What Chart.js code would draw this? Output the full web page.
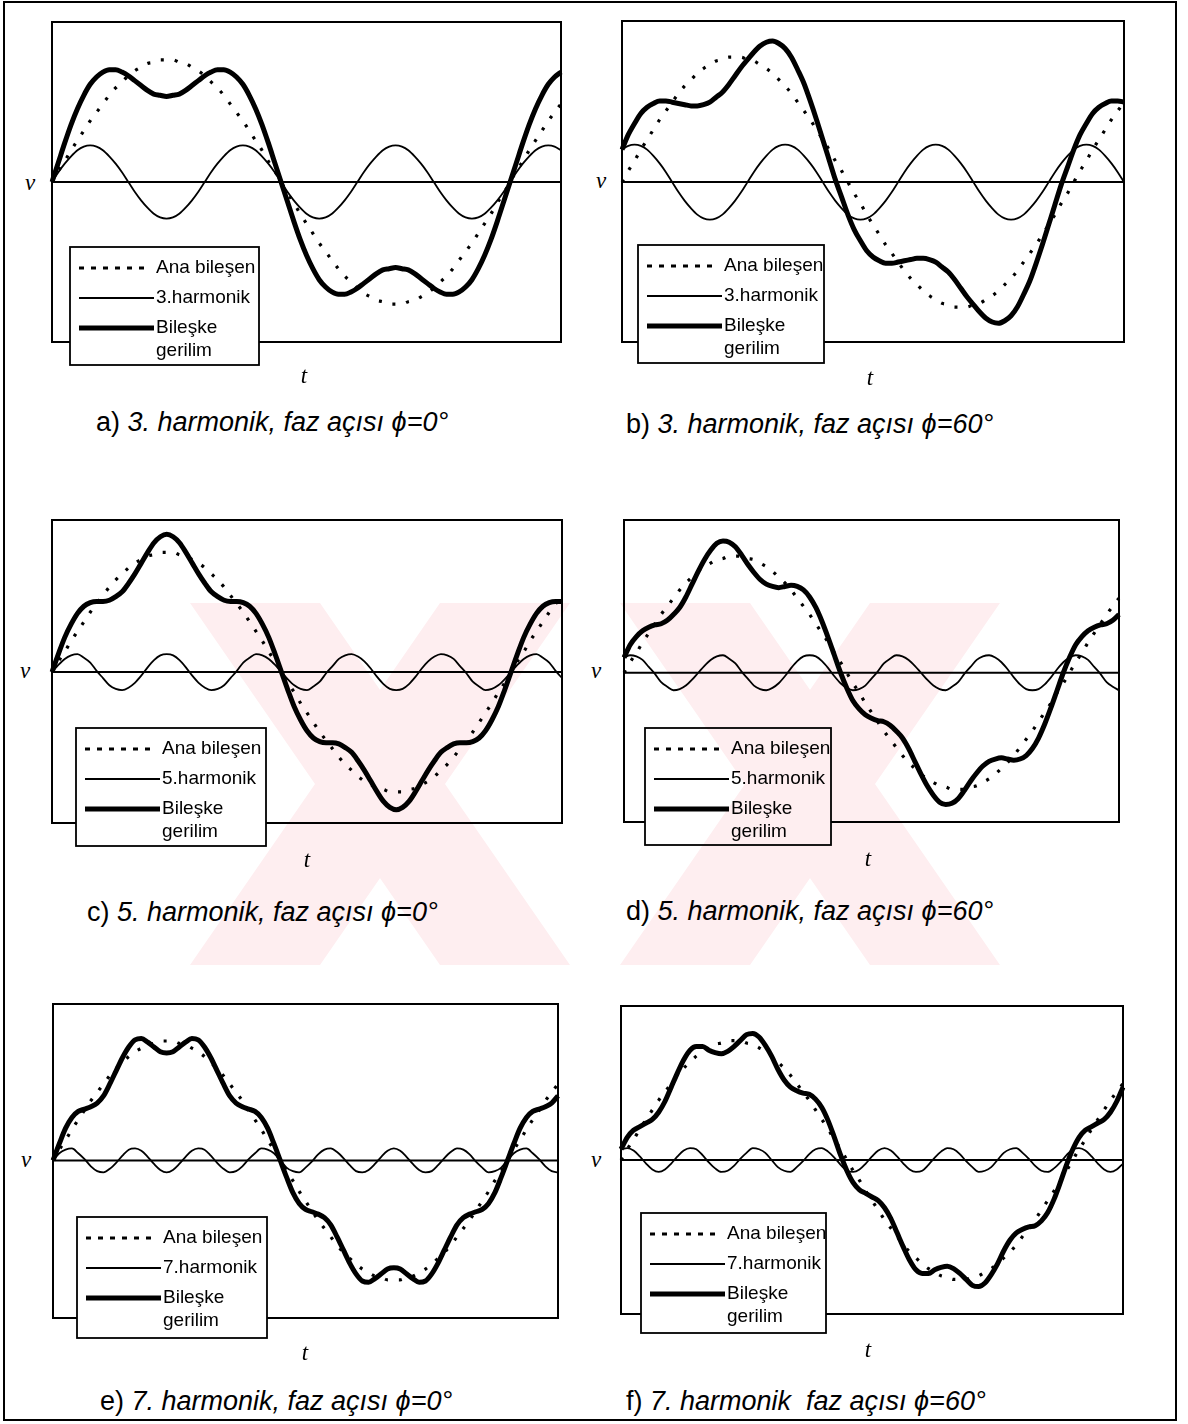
<!DOCTYPE html>
<html>
<head>
<meta charset="utf-8">
<script src="https://cdn.jsdelivr.net/npm/chart.js@4.4.1/dist/chart.umd.min.js"></script>
<style>
  html, body { margin: 0; padding: 0; background: #fff; }
  #page { position: relative; width: 1188px; height: 1424px; overflow: hidden; background: #fff; }
  #frame { position: absolute; left: 3px; top: 1px; width: 1170px; height: 1416px; border: 2px solid #000; }
  canvas.plot { position: absolute; }
  .cap { position: absolute; font-family: "Liberation Sans", Arial, sans-serif; font-size: 27px; line-height: 27px; white-space: pre; color: #000; }
  .cap i { font-style: italic; }
  .ax { position: absolute; font-family: "Liberation Serif", "Times New Roman", serif; font-style: italic; font-size: 23px; line-height: 23px; color: #000; transform: translateX(-50%); }
  #wm { position: absolute; left: 0; top: 0; mix-blend-mode: multiply; pointer-events: none; }
</style>
</head>
<body>
<div id="page">
  <div id="frame"></div>
</div>
<script>
// Time axis in degrees of the fundamental (0 .. 400°, 5° steps)
const tDeg = [0,5,10,15,20,25,30,35,40,45,50,55,60,65,70,75,80,85,90,95,100,105,110,115,120,125,130,135,140,145,150,155,160,165,170,175,180,185,190,195,200,205,210,215,220,225,230,235,240,245,250,255,260,265,270,275,280,285,290,295,300,305,310,315,320,325,330,335,340,345,350,355,360,365,370,375,380,385,390,395,400];

// Fundamental (Ana bileşen), same in every panel
const anaBilesen = [0,0.09,0.17,0.26,0.34,0.42,0.50,0.57,0.64,0.71,0.77,0.82,0.87,0.91,0.94,0.97,0.98,1.00,1.00,
  1.00,0.98,0.97,0.94,0.91,0.87,0.82,0.77,0.71,0.64,0.57,0.50,0.42,0.34,0.26,0.17,0.09,0,
  -0.09,-0.17,-0.26,-0.34,-0.42,-0.50,-0.57,-0.64,-0.71,-0.77,-0.82,-0.87,-0.91,-0.94,-0.97,-0.98,-1.00,-1.00,
  -1.00,-0.98,-0.97,-0.94,-0.91,-0.87,-0.82,-0.77,-0.71,-0.64,-0.57,-0.50,-0.42,-0.34,-0.26,-0.17,-0.09,0,
  0.09,0.17,0.26,0.34,0.42,0.50,0.57,0.64];

// 3rd harmonic, phase 0° and 60°
const harmonik3_0 = [0,0.08,0.15,0.21,0.26,0.29,0.30,0.29,0.26,0.21,0.15,0.08,0,-0.08,-0.15,-0.21,-0.26,-0.29,-0.30,-0.29,-0.26,-0.21,-0.15,-0.08,
  0,0.08,0.15,0.21,0.26,0.29,0.30,0.29,0.26,0.21,0.15,0.08,0,-0.08,-0.15,-0.21,-0.26,-0.29,-0.30,-0.29,-0.26,-0.21,-0.15,-0.08,
  0,0.08,0.15,0.21,0.26,0.29,0.30,0.29,0.26,0.21,0.15,0.08,0,-0.08,-0.15,-0.21,-0.26,-0.29,-0.30,-0.29,-0.26,-0.21,-0.15,-0.08,
  0,0.08,0.15,0.21,0.26,0.29,0.30,0.29,0.26];
const bileske3_0 = [0,0.16,0.32,0.47,0.60,0.71,0.80,0.86,0.90,0.92,0.92,0.90,0.87,0.83,0.79,0.75,0.72,0.71,0.70,0.71,0.72,0.75,0.79,0.83,0.87,0.90,0.92,0.92,0.90,0.86,0.80,0.71,0.60,0.47,0.32,0.16,0,
  -0.16,-0.32,-0.47,-0.60,-0.71,-0.80,-0.86,-0.90,-0.92,-0.92,-0.90,-0.87,-0.83,-0.79,-0.75,-0.72,-0.71,-0.70,-0.71,-0.72,-0.75,-0.79,-0.83,-0.87,-0.90,-0.92,-0.92,-0.90,-0.86,-0.80,-0.71,-0.60,-0.47,-0.32,-0.16,0,
  0.16,0.32,0.47,0.60,0.71,0.80,0.86,0.90];
const harmonik3_60 = [0.26,0.29,0.30,0.29,0.26,0.21,0.15,0.08,0,-0.08,-0.15,-0.21,-0.26,-0.29,-0.30,-0.29,-0.26,-0.21,-0.15,-0.08,0,0.08,0.15,0.21,
  0.26,0.29,0.30,0.29,0.26,0.21,0.15,0.08,0,-0.08,-0.15,-0.21,-0.26,-0.29,-0.30,-0.29,-0.26,-0.21,-0.15,-0.08,0,0.08,0.15,0.21,
  0.26,0.29,0.30,0.29,0.26,0.21,0.15,0.08,0,-0.08,-0.15,-0.21,-0.26,-0.29,-0.30,-0.29,-0.26,-0.21,-0.15,-0.08,0,0.08,0.15,0.21,
  0.26,0.29,0.30,0.29,0.26,0.21,0.15,0.08,0];
const bileske3_60 = [0.26,0.38,0.47,0.55,0.60,0.63,0.65,0.65,0.64,0.63,0.62,0.61,0.61,0.62,0.64,0.68,0.72,0.78,0.85,0.92,0.98,1.04,1.09,1.12,1.13,1.11,1.07,1.00,0.90,0.79,0.65,0.50,0.34,0.18,0.02,-0.12,-0.26,
  -0.38,-0.47,-0.55,-0.60,-0.63,-0.65,-0.65,-0.64,-0.63,-0.62,-0.61,-0.61,-0.62,-0.64,-0.68,-0.72,-0.78,-0.85,-0.92,-0.98,-1.04,-1.09,-1.12,-1.13,-1.11,-1.07,-1.00,-0.90,-0.79,-0.65,-0.50,-0.34,-0.18,-0.02,0.12,0.26,
  0.38,0.47,0.55,0.60,0.63,0.65,0.65,0.64];

// 5th harmonic, phase 0° and 60°
const harmonik5_0 = [0,0.06,0.11,0.14,0.15,0.12,0.08,0.01,-0.05,-0.11,-0.14,-0.15,-0.13,-0.09,-0.03,0.04,0.10,0.14,0.15,0.14,0.10,0.04,-0.03,-0.09,-0.13,-0.15,-0.14,-0.11,-0.05,0.01,0.08,0.12,0.15,0.14,0.11,0.06,0,
  -0.06,-0.11,-0.14,-0.15,-0.12,-0.08,-0.01,0.05,0.11,0.14,0.15,0.13,0.09,0.03,-0.04,-0.10,-0.14,-0.15,-0.14,-0.10,-0.04,0.03,0.09,0.13,0.15,0.14,0.11,0.05,-0.01,-0.08,-0.12,-0.15,-0.14,-0.11,-0.06,0,
  0.06,0.11,0.14,0.15,0.12,0.08,0.01,-0.05];
const bileske5_0 = [0,0.15,0.29,0.40,0.49,0.55,0.58,0.59,0.59,0.60,0.63,0.67,0.74,0.82,0.91,1.00,1.08,1.13,1.15,1.13,1.08,1.00,0.91,0.82,0.74,0.67,0.63,0.60,0.59,0.59,0.58,0.55,0.49,0.40,0.29,0.15,0,
  -0.15,-0.29,-0.40,-0.49,-0.55,-0.58,-0.59,-0.59,-0.60,-0.63,-0.67,-0.74,-0.82,-0.91,-1.00,-1.08,-1.13,-1.15,-1.13,-1.08,-1.00,-0.91,-0.82,-0.74,-0.67,-0.63,-0.60,-0.59,-0.59,-0.58,-0.55,-0.49,-0.40,-0.29,-0.15,0,
  0.15,0.29,0.40,0.49,0.55,0.58,0.59,0.59];
const harmonik5_60 = [0.13,0.15,0.14,0.11,0.05,-0.01,-0.08,-0.12,-0.15,-0.14,-0.11,-0.06,0,0.06,0.11,0.14,0.15,0.12,0.08,0.01,-0.05,-0.11,-0.14,-0.15,-0.13,-0.09,-0.03,0.04,0.10,0.14,0.15,0.14,0.10,0.04,-0.03,-0.09,-0.13,
  -0.15,-0.14,-0.11,-0.05,0.01,0.08,0.12,0.15,0.14,0.11,0.06,0,-0.06,-0.11,-0.14,-0.15,-0.12,-0.08,-0.01,0.05,0.11,0.14,0.15,0.13,0.09,0.03,-0.04,-0.10,-0.14,-0.15,-0.14,-0.10,-0.04,0.03,0.09,0.13,
  0.15,0.14,0.11,0.05,-0.01,-0.08,-0.12,-0.15];
const bileske5_60 = [0.13,0.24,0.31,0.36,0.39,0.41,0.42,0.45,0.50,0.56,0.65,0.76,0.87,0.97,1.05,1.11,1.13,1.12,1.08,1.01,0.93,0.86,0.80,0.76,0.74,0.73,0.74,0.75,0.74,0.71,0.65,0.56,0.44,0.30,0.15,0.00,-0.13,
  -0.24,-0.31,-0.36,-0.39,-0.41,-0.42,-0.45,-0.50,-0.56,-0.65,-0.76,-0.87,-0.97,-1.05,-1.11,-1.13,-1.12,-1.08,-1.01,-0.93,-0.86,-0.80,-0.76,-0.74,-0.73,-0.74,-0.75,-0.74,-0.71,-0.65,-0.56,-0.44,-0.30,-0.15,0.00,0.13,
  0.24,0.31,0.36,0.39,0.41,0.42,0.45,0.50];

// 7th harmonic, phase 0° and 60°
const harmonik7_0 = [0,0.06,0.09,0.10,0.06,0.01,-0.05,-0.09,-0.10,-0.07,-0.02,0.04,0.09,0.10,0.08,0.03,-0.03,-0.08,-0.10,-0.08,-0.03,0.03,0.08,0.10,0.09,0.04,-0.02,-0.07,-0.10,-0.09,-0.05,0.01,0.06,0.10,0.09,0.06,0,
  -0.06,-0.09,-0.10,-0.06,-0.01,0.05,0.09,0.10,0.07,0.02,-0.04,-0.09,-0.10,-0.08,-0.03,0.03,0.08,0.10,0.08,0.03,-0.03,-0.08,-0.10,-0.09,-0.04,0.02,0.07,0.10,0.09,0.05,-0.01,-0.06,-0.10,-0.09,-0.06,0,
  0.06,0.09,0.10,0.06,0.01,-0.05,-0.09,-0.10];
const bileske7_0 = [0,0.14,0.27,0.36,0.41,0.43,0.45,0.48,0.54,0.64,0.75,0.86,0.95,1.01,1.02,0.99,0.95,0.91,0.90,0.91,0.95,0.99,1.02,1.01,0.95,0.86,0.75,0.64,0.54,0.48,0.45,0.43,0.41,0.36,0.27,0.14,0,
  -0.14,-0.27,-0.36,-0.41,-0.43,-0.45,-0.48,-0.54,-0.64,-0.75,-0.86,-0.95,-1.01,-1.02,-0.99,-0.95,-0.91,-0.90,-0.91,-0.95,-0.99,-1.02,-1.01,-0.95,-0.86,-0.75,-0.64,-0.54,-0.48,-0.45,-0.43,-0.41,-0.36,-0.27,-0.14,0,
  0.14,0.27,0.36,0.41,0.43,0.45,0.48,0.54];
const harmonik7_60 = [0.09,0.10,0.08,0.03,-0.03,-0.08,-0.10,-0.08,-0.03,0.03,0.08,0.10,0.09,0.04,-0.02,-0.07,-0.10,-0.09,-0.05,0.01,0.06,0.10,0.09,0.06,0,-0.06,-0.09,-0.10,-0.06,-0.01,0.05,0.09,0.10,0.07,0.02,-0.04,-0.09,
  -0.10,-0.08,-0.03,0.03,0.08,0.10,0.08,0.03,-0.03,-0.08,-0.10,-0.09,-0.04,0.02,0.07,0.10,0.09,0.05,-0.01,-0.06,-0.10,-0.09,-0.06,0,0.06,0.09,0.10,0.06,0.01,-0.05,-0.09,-0.10,-0.07,-0.02,0.04,0.09,
  0.10,0.08,0.03,-0.03,-0.08,-0.10,-0.08,-0.03];
const bileske7_60 = [0.09,0.19,0.25,0.28,0.31,0.34,0.40,0.49,0.61,0.73,0.84,0.92,0.95,0.95,0.92,0.90,0.89,0.91,0.95,1.00,1.05,1.06,1.03,0.96,0.87,0.76,0.67,0.61,0.58,0.56,0.55,0.51,0.44,0.33,0.19,0.04,-0.09,
  -0.19,-0.25,-0.28,-0.31,-0.34,-0.40,-0.49,-0.61,-0.73,-0.84,-0.92,-0.95,-0.95,-0.92,-0.90,-0.89,-0.91,-0.95,-1.00,-1.05,-1.06,-1.03,-0.96,-0.87,-0.76,-0.67,-0.61,-0.58,-0.56,-0.55,-0.51,-0.44,-0.33,-0.19,-0.04,0.09,
  0.19,0.25,0.28,0.31,0.34,0.40,0.49,0.61];

// Panel layout (page pixels)
const panels = [
  { harm: harmonik3_0, res: bileske3_0, harmLabel: '3.harmonik', plot: {l:52, t:22, r:561, b:342}, y: [-1.31, 1.31],
    legend: {x:70, y:247, w:189, h:118}, v: [30,185], t: [304,376], cap: [96,422.5], lead: 'a) ', text: '3. harmonik, faz açısı ϕ=0°' },
  { harm: harmonik3_60, res: bileske3_60, harmLabel: '3.harmonik', plot: {l:622, t:21, r:1124, b:342}, y: [-1.28, 1.29],
    legend: {x:638, y:245, w:186, h:118}, v: [601,183], t: [870,378], cap: [626,424], lead: 'b) ', text: '3. harmonik, faz açısı ϕ=60°' },
  { harm: harmonik5_0, res: bileske5_0, harmLabel: '5.harmonik', plot: {l:52, t:520, r:562, b:823}, y: [-1.26, 1.27],
    legend: {x:76, y:728, w:190, h:118}, v: [25,673], t: [307,860], cap: [87,912], lead: 'c) ', text: '5. harmonik, faz açısı ϕ=0°' },
  { harm: harmonik5_60, res: bileske5_60, harmLabel: '5.harmonik', plot: {l:624, t:520, r:1119, b:822}, y: [-1.28, 1.31],
    legend: {x:645, y:728, w:186, h:117}, v: [596,673], t: [868,859], cap: [626,911.5], lead: 'd) ', text: '5. harmonik, faz açısı ϕ=60°' },
  { harm: harmonik7_0, res: bileske7_0, harmLabel: '7.harmonik', plot: {l:53, t:1004, r:558, b:1318}, y: [-1.32, 1.31],
    legend: {x:77, y:1217, w:190, h:121}, v: [26,1162], t: [305,1353], cap: [100,1401.5], lead: 'e) ', text: '7. harmonik, faz açısı ϕ=0°' },
  { harm: harmonik7_60, res: bileske7_60, harmLabel: '7.harmonik', plot: {l:621, t:1006, r:1123, b:1314}, y: [-1.29, 1.29],
    legend: {x:641, y:1213, w:185, h:120}, v: [596,1162], t: [868,1350], cap: [626,1401.5], lead: 'f) ', text: '7. harmonik  faz açısı ϕ=60°' }
];

const PAD = {left: 14, top: 14, right: 14, bottom: 44};

// Zero line, plot frame and boxed legend for each panel
const panelDecor = {
  id: 'panelDecor',
  beforeDatasetsDraw(chart) {
    const {ctx, chartArea: a, scales} = chart;
    const y0 = scales.y.getPixelForValue(0);
    ctx.save();
    ctx.strokeStyle = '#000';
    ctx.lineWidth = 2;
    ctx.beginPath();
    ctx.moveTo(a.left, y0);
    ctx.lineTo(a.right, y0);
    ctx.stroke();
    ctx.restore();
  },
  afterDatasetsDraw(chart) {
    const {ctx, chartArea: a} = chart;
    ctx.save();
    ctx.strokeStyle = '#000';
    ctx.lineWidth = 2;
    ctx.strokeRect(a.left, a.top, a.right - a.left, a.bottom - a.top);
    ctx.restore();
  },
  afterDraw(chart, args, opts) {
    const ctx = chart.ctx;
    const B = opts.box;
    ctx.save();
    ctx.fillStyle = '#fff';
    ctx.fillRect(B.x, B.y, B.w, B.h);
    ctx.strokeStyle = '#000';
    ctx.lineWidth = 1.8;
    ctx.strokeRect(B.x, B.y, B.w, B.h);
    ctx.font = '19px "Liberation Sans", Arial, sans-serif';
    ctx.fillStyle = '#000';
    ctx.textBaseline = 'middle';
    const items = opts.items;
    const rowY = [21, 51, 81];
    items.forEach((it, i) => {
      const yy = B.y + rowY[i];
      ctx.save();
      ctx.strokeStyle = '#000';
      ctx.lineWidth = it.width;
      ctx.setLineDash(it.dash || []);
      ctx.beginPath();
      ctx.moveTo(B.x + 9, yy);
      ctx.lineTo(B.x + (it.dash ? 78 : 84), yy);
      ctx.stroke();
      ctx.restore();
      it.lines.forEach((ln, j) => ctx.fillText(ln, B.x + 86, yy + j * 23));
    });
    ctx.restore();
  }
};

const page = document.getElementById('page');

panels.forEach((p) => {
  const cl = p.plot.l - PAD.left, ct = p.plot.t - PAD.top;
  const cw = (p.plot.r - p.plot.l) + PAD.left + PAD.right;
  const ch = (p.plot.b - p.plot.t) + PAD.top + PAD.bottom;
  const cv = document.createElement('canvas');
  cv.className = 'plot';
  cv.width = cw; cv.height = ch;
  cv.style.left = cl + 'px'; cv.style.top = ct + 'px';
  cv.style.width = cw + 'px'; cv.style.height = ch + 'px';
  page.appendChild(cv);

  new Chart(cv.getContext('2d'), {
    type: 'line',
    data: {
      labels: tDeg,
      datasets: [
        { label: 'Ana bileşen', data: anaBilesen, borderColor: '#000', borderWidth: 3.2, borderDash: [3, 11],
          pointRadius: 0, cubicInterpolationMode: 'monotone', order: 1 },
        { label: p.harmLabel, data: p.harm, borderColor: '#000', borderWidth: 1.8,
          pointRadius: 0, cubicInterpolationMode: 'monotone', order: 2 },
        { label: 'Bileşke gerilim', data: p.res, borderColor: '#000', borderWidth: 5, borderJoinStyle: 'round',
          pointRadius: 0, cubicInterpolationMode: 'monotone', order: 0 }
      ]
    },
    options: {
      responsive: false,
      animation: false,
      events: [],
      layout: { padding: PAD },
      scales: {
        x: { display: false, offset: false },
        y: { display: false, min: p.y[0], max: p.y[1] }
      },
      plugins: {
        legend: { display: false },
        tooltip: { enabled: false },
        panelDecor: {
          box: { x: p.legend.x - cl, y: p.legend.y - ct, w: p.legend.w, h: p.legend.h },
          items: [
            { lines: ['Ana bileşen'], width: 3.2, dash: [5, 7] },
            { lines: [p.harmLabel], width: 1.8 },
            { lines: ['Bileşke', 'gerilim'], width: 5 }
          ]
        }
      }
    },
    plugins: [panelDecor]
  });

  // axis letters
  const vl = document.createElement('div');
  vl.className = 'ax'; vl.textContent = 'v';
  vl.style.left = p.v[0] + 'px'; vl.style.top = (p.v[1] - 14) + 'px';
  page.appendChild(vl);
  const tl = document.createElement('div');
  tl.className = 'ax'; tl.textContent = 't';
  tl.style.left = p.t[0] + 'px'; tl.style.top = (p.t[1] - 12.5) + 'px';
  page.appendChild(tl);

  // caption
  const cap = document.createElement('div');
  cap.className = 'cap';
  cap.style.left = p.cap[0] + 'px';
  cap.style.top = (p.cap[1] - 13.2) + 'px';
  const lead = document.createElement('span');
  lead.textContent = p.lead;
  const body = document.createElement('i');
  body.textContent = p.text;
  cap.appendChild(lead); cap.appendChild(body);
  page.appendChild(cap);
});

// faint pink stamp across the middle row
const wmBands = [
  [[190,603],[320,603],[570,965],[440,965]],
  [[440,603],[570,603],[320,965],[190,965]],
  [[620,603],[750,603],[1000,965],[870,965]],
  [[870,603],[1000,603],[750,965],[620,965]]
];
const wm = document.createElement('canvas');
wm.id = 'wm'; wm.width = 1188; wm.height = 1424;
page.appendChild(wm);
const wctx = wm.getContext('2d');
wctx.fillStyle = '#feeef0';
wctx.beginPath();
wmBands.forEach(poly => {
  wctx.moveTo(poly[0][0], poly[0][1]);
  for (let i = 1; i < poly.length; i++) wctx.lineTo(poly[i][0], poly[i][1]);
  wctx.closePath();
});
wctx.fill('nonzero');
</script>
</body>
</html>
